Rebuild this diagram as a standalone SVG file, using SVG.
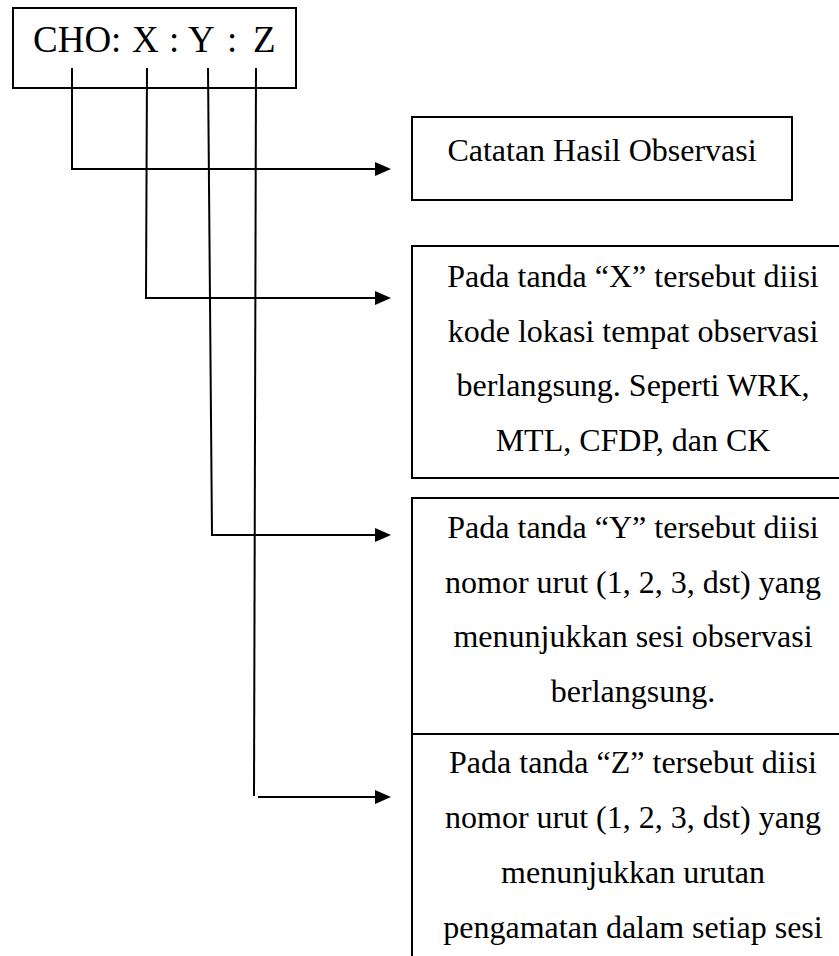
<svg xmlns="http://www.w3.org/2000/svg" width="839" height="956" viewBox="0 0 839 956">
<defs>
<style>
.box{fill:#fff;stroke:#000;stroke-width:2}
.ln{fill:none;stroke:#000;stroke-width:2}
.t{font-family:"Liberation Serif","Times New Roman",serif;font-size:32px;fill:#000;text-anchor:middle}
.h{font-family:"Liberation Serif","Times New Roman",serif;font-size:37px;fill:#000}
</style>
<marker id="arr" viewBox="0 0 16 14" refX="0" refY="7" markerWidth="16" markerHeight="14" markerUnits="userSpaceOnUse" orient="auto">
<path d="M0,0 L16,7 L0,14 Z" fill="#000"/>
</marker>
</defs>
<rect width="839" height="956" fill="#fff"/>
<g id="code">
<rect class="box" x="13" y="8" width="283" height="80"/>
<text class="h" y="52"><tspan x="33">CHO:</tspan><tspan x="132">X</tspan><tspan x="169">:</tspan><tspan x="188">Y</tspan><tspan x="227">:</tspan><tspan x="253">Z</tspan></text>
</g>
<g id="connectors">
<polyline class="ln" points="72,68 72,169 375,169" marker-end="url(#arr)"/>
<polyline class="ln" points="147,68 146,298 375,298" marker-end="url(#arr)"/>
<polyline class="ln" points="208,68 212,535 375,535" marker-end="url(#arr)"/>
<line class="ln" x1="256" y1="68" x2="254" y2="796"/>
<line class="ln" x1="258" y1="797" x2="375" y2="797" marker-end="url(#arr)"/>
</g>
<g id="catatan">
<rect class="box" x="412" y="117" width="380" height="83"/>
<text class="t" x="602" y="161">Catatan Hasil Observasi</text>
</g>
<g id="x-desc">
<rect class="box" x="412" y="246" width="450" height="232"/>
<text class="t" x="633" y="287">Pada tanda “X” tersebut diisi</text>
<text class="t" x="633" y="341.5">kode lokasi tempat observasi</text>
<text class="t" x="633" y="396">berlangsung. Seperti WRK,</text>
<text class="t" x="633" y="450.5">MTL, CFDP, dan CK</text>
</g>
<g id="y-desc">
<rect class="box" x="412" y="498" width="450" height="236"/>
<text class="t" x="633" y="538">Pada tanda “Y” tersebut diisi</text>
<text class="t" x="633" y="592.5">nomor urut (1, 2, 3, dst) yang</text>
<text class="t" x="633" y="647">menunjukkan sesi observasi</text>
<text class="t" x="633" y="701.5">berlangsung.</text>
</g>
<g id="z-desc">
<rect class="box" x="412" y="734" width="450" height="260"/>
<text class="t" x="633" y="773">Pada tanda “Z” tersebut diisi</text>
<text class="t" x="633" y="828">nomor urut (1, 2, 3, dst) yang</text>
<text class="t" x="633" y="883">menunjukkan urutan</text>
<text class="t" x="633" y="937.5">pengamatan dalam setiap sesi</text>
</g>
</svg>
